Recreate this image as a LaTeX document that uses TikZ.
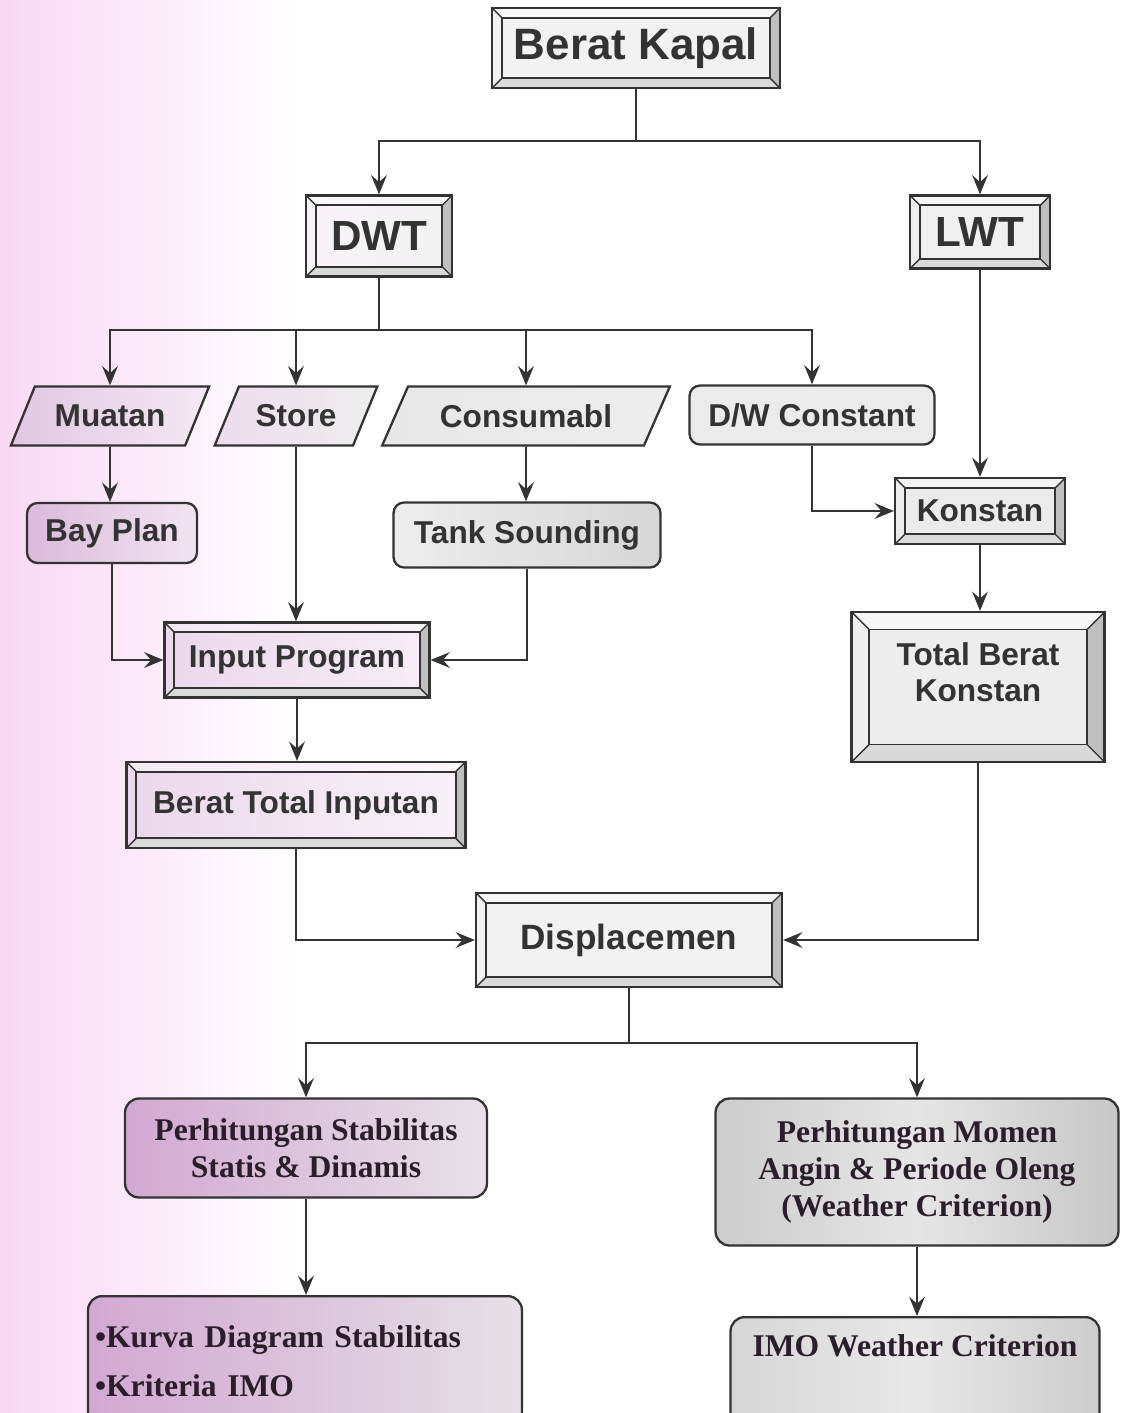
\documentclass[tikz,border=0pt]{standalone}
\usepackage{fontspec}
\setmainfont{Liberation Serif}
\setsansfont{Liberation Sans}
\usetikzlibrary{arrows.meta,shapes.geometric,calc}

\definecolor{bgpink}{HTML}{F8D8F4}
\definecolor{lilac}{HTML}{D2A8D2}
\definecolor{ink}{HTML}{333333}
\definecolor{inkdark}{HTML}{2A1E2A}

% bevel strips drawn inside a framed box
\newcommand\bevelstrips[1]{%
  \coordinate (bsw) at (path picture bounding box.south west);
  \coordinate (bne) at (path picture bounding box.north east);
  \coordinate (bnw) at (path picture bounding box.north west);
  \coordinate (bse) at (path picture bounding box.south east);
  \coordinate (isw) at ($(bsw)+(#1,#1)$);
  \coordinate (ine) at ($(bne)+(-#1,-#1)$);
  \coordinate (inw) at ($(bnw)+(#1,-#1)$);
  \coordinate (ise) at ($(bse)+(-#1,#1)$);
  \fill[white,opacity=0.45] (bnw) -- (bne) -- (ine) -- (inw) -- cycle;
  \fill[gray!30] (bsw) -- (isw) -- (ise) -- (bse) -- cycle;
  \fill[gray!50] (bne) -- (ine) -- (ise) -- (bse) -- cycle;
  \draw[ink,line width=1pt] (isw) rectangle (ine);
  \draw[ink,line width=0.8pt] (bsw) -- (isw) (bne) -- (ine) (bnw) -- (inw) (bse) -- (ise);
}

\tikzset{
  every node/.style={text=ink},
  arr/.style={line width=1.1pt, draw=ink, -{Stealth[length=11pt,width=9pt,inset=4pt]}},
  bevelbox/.style={draw=ink, line width=1.3pt, align=center,
    font=\sffamily\bfseries\fontsize{18}{21}\selectfont, path picture={\bevelstrips{#1}}},
  bevelbox/.default=5.5pt,
  slantbox/.style={trapezium, trapezium left angle=60, trapezium right angle=120,
    trapezium stretches=true, draw=ink, line width=1.3pt,
    font=\sffamily\bfseries\fontsize{18}{21}\selectfont},
  roundbox/.style={rectangle, rounded corners=6pt, draw=ink, line width=1.3pt,
    font=\sffamily\bfseries\fontsize{18}{21}\selectfont},
  calcbox/.style={rectangle, rounded corners=8pt, draw=ink, line width=1.3pt,
    text=inkdark, align=center, font=\rmfamily\bfseries\fontsize{18}{21}\selectfont},
}

\begin{document}
\begin{tikzpicture}[x=0.02cm,y=-0.02cm]
\useasboundingbox (0,0) rectangle (1120,1413);
\clip (0,0) rectangle (1120,1413);
\shade[left color=bgpink, right color=white] (0,0) rectangle (300,1413);

% top level
\node[bevelbox, fill=black!5, minimum width=5.76cm, minimum height=1.6cm,
  font=\sffamily\bfseries\fontsize{25}{28}\selectfont] (kapal) at (636,48) {Berat Kapal};
\node[bevelbox, left color=lilac!15, right color=black!5, minimum width=2.92cm, minimum height=1.62cm,
  font=\sffamily\bfseries\fontsize{24}{27}\selectfont] (dwt) at (379,236) {DWT};
\node[bevelbox, fill=black!6, minimum width=2.8cm, minimum height=1.46cm,
  font=\sffamily\bfseries\fontsize{24}{27}\selectfont] (lwt) at (980,232) {LWT};

% DWT parts
\node[slantbox, left color=lilac!65, right color=lilac!25, minimum width=4cm, minimum height=1.18cm] (muatan) at (110,416) {Muatan};
\node[slantbox, left color=lilac!40, right color=black!7, minimum width=3.26cm, minimum height=1.18cm] (store) at (296,416) {Store};
\node[slantbox, left color=black!9, right color=black!7, minimum width=5.76cm, minimum height=1.18cm] (consum) at (526,416) {Consumabl};
\node[roundbox, fill=black!8, minimum width=4.9cm, minimum height=1.18cm] (dwc) at (812,415) {D/W Constant};

\node[roundbox, left color=lilac!80, right color=lilac!30, minimum width=3.4cm, minimum height=1.2cm] (bay) at (112,533) {Bay Plan};
\node[roundbox, left color=black!7, right color=black!16, minimum width=5.34cm, minimum height=1.3cm] (tank) at (527,535) {Tank Sounding};

\node[bevelbox, fill=black!8, minimum width=3.4cm, minimum height=1.32cm] (konstan) at (980,511) {Konstan};
\node[bevelbox=10pt, fill=black!7, minimum width=5.06cm, minimum height=3cm] (tbk) at (978,687) {Total Berat\\Konstan\\[-4pt]\mbox{}};

\node[bevelbox, left color=lilac!45, right color=lilac!20, minimum width=5.3cm, minimum height=1.5cm] (input) at (297,660) {Input Program};
\node[bevelbox, left color=lilac!45, right color=lilac!15, minimum width=6.78cm, minimum height=1.72cm] (bti) at (296,805) {Berat Total Inputan};

\node[bevelbox, fill=black!5, minimum width=6.12cm, minimum height=1.88cm,
  font=\sffamily\bfseries\fontsize{20}{24}\selectfont] (disp) at (629,940) {Displacemen};

% calculations
\node[calcbox, left color=lilac, right color=lilac!65!black!20, minimum width=7.24cm, minimum height=1.98cm] (pssd) at (306,1148)
  {Perhitungan Stabilitas\\Statis \& Dinamis};
\node[calcbox, left color=black!20, right color=black!22, middle color=black!10, minimum width=8.06cm, minimum height=2.94cm] (pmap) at (917,1172)
  {Perhitungan Momen\\Angin \& Periode Oleng\\(Weather Criterion)};
\node[calcbox, anchor=north, left color=lilac, right color=lilac!60!black!20, minimum width=8.68cm, minimum height=2.6cm,
  align=left, text width=8.4cm, font=\rmfamily\bfseries\fontsize{18}{28}\selectfont] (kurva) at (305,1295)
  {•Kurva Diagram Stabilitas\\•Kriteria IMO};
\node[calcbox, anchor=north, left color=black!16, right color=black!20, middle color=black!9, minimum width=7.38cm,
  text height=19pt, text depth=2cm] (imo) at (915,1316) {IMO Weather Criterion};

% connectors
\draw[arr] (kapal.south) -- ++(0,52) -| (dwt.north);
\draw[arr] (kapal.south) -- ++(0,52) -| (lwt.north);
\draw[arr] (dwt.south) -- ++(0,52) -| (muatan);
\draw[arr] (dwt.south) -- ++(0,52) -| (store);
\draw[arr] (dwt.south) -- ++(0,52) -| (consum);
\draw[arr] (dwt.south) -- ++(0,52) -| (dwc.north);
\draw[arr] (lwt.south) -- (konstan.north);
\draw[arr] (muatan) -- (muatan |- bay.north);
\draw[arr] (consum) -- (consum |- tank.north);
\draw[arr] (dwc.south) |- (konstan.west);
\draw[arr] (konstan.south) -- (konstan.south |- tbk.north);
\draw[arr] (store) -- (store |- input.north);
\draw[arr] (bay.south) |- (input.west);
\draw[arr] (tank.south) |- (input.east);
\draw[arr] (input.south) -- (input.south |- bti.north);
\draw[arr] (bti.south) |- (disp.west);
\draw[arr] (tbk.south) |- (disp.east);
\draw[arr] (disp.south) -- ++(0,55) -| (pssd.north);
\draw[arr] (disp.south) -- ++(0,55) -| (pmap.north);
\draw[arr] (pssd.south) -- (pssd.south |- kurva.north);
\draw[arr] (pmap.south) -- (pmap.south |- imo.north);
\end{tikzpicture}
\end{document}
